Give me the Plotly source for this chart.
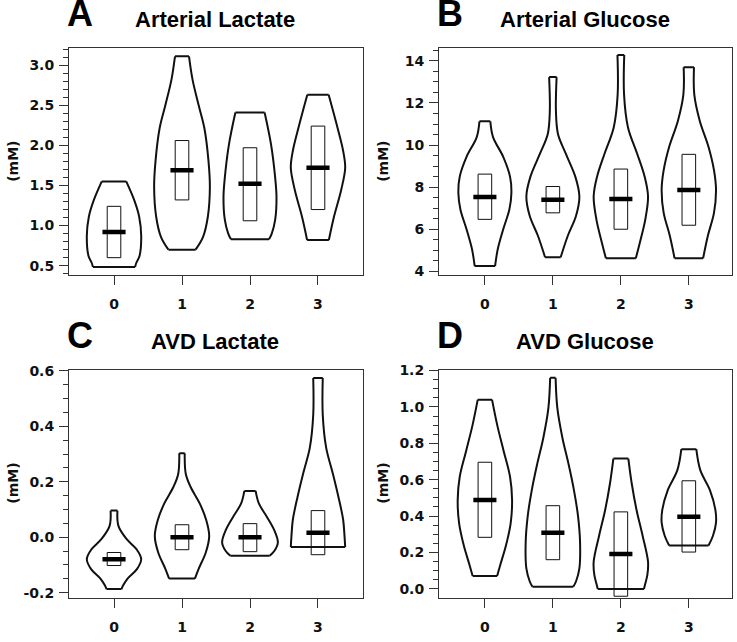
import plotly.graph_objects as go

W, H = 737, 642

# ---------------- data ----------------
groups = [0, 1, 2, 3]
group_labels = ["0", "1", "2", "3"]

panel_letters = ["A", "B", "C", "D"]
panel_titles = ["Arterial Lactate", "Arterial Glucose", "AVD Lactate", "AVD Glucose"]
y_title = "(mM)"

# violin outlines: y levels (bottom -> top) and half-widths (in category units)
A_levels = [
    [0.484, 0.54, 0.62, 0.87, 1.11, 1.31, 1.55],
    [0.70, 0.86, 1.11, 1.48, 1.80, 2.21, 2.50, 2.82, 3.11],
    [0.83, 0.90, 1.07, 1.35, 1.60, 2.01, 2.41],
    [0.82, 1.11, 1.44, 1.72, 1.93, 2.21, 2.63],
]
A_halfw = [
    [0.31, 0.33, 0.375, 0.40, 0.37, 0.30, 0.18],
    [0.20, 0.31, 0.38, 0.41, 0.39, 0.33, 0.245, 0.155, 0.103],
    [0.28, 0.32, 0.37, 0.39, 0.37, 0.31, 0.215],
    [0.16, 0.235, 0.34, 0.40, 0.37, 0.29, 0.157],
]
A_q1 = [0.60, 1.32, 1.06, 1.20]
A_q3 = [1.24, 2.06, 1.97, 2.24]
A_med = [0.92, 1.69, 1.52, 1.72]
A_ticks = [0.5, 1.0, 1.5, 2.0, 2.5, 3.0]
A_ticklabels = ["0.5", "1.0", "1.5", "2.0", "2.5", "3.0"]

B_levels = [
    [4.25, 5.06, 6.0, 6.94, 7.72, 8.50, 9.44, 10.38, 11.13],
    [4.67, 5.69, 6.63, 7.56, 8.50, 9.59, 10.53, 11.62, 13.23],
    [4.62, 5.37, 6.47, 7.56, 8.50, 9.59, 10.84, 12.41, 14.28],
    [4.62, 5.69, 6.78, 7.87, 8.81, 9.91, 11.16, 12.41, 13.70],
]
B_halfw = [
    [0.15, 0.19, 0.27, 0.36, 0.39, 0.37, 0.27, 0.12, 0.08],
    [0.115, 0.22, 0.34, 0.39, 0.33, 0.19, 0.075, 0.045, 0.055],
    [0.22, 0.28, 0.36, 0.40, 0.35, 0.24, 0.105, 0.047, 0.05],
    [0.21, 0.28, 0.37, 0.40, 0.37, 0.29, 0.16, 0.08, 0.076],
]
B_q1 = [6.47, 6.78, 6.0, 6.19]
B_q3 = [8.62, 8.03, 8.86, 9.56]
B_med = [7.53, 7.40, 7.44, 7.87]
B_ticks = [4, 6, 8, 10, 12, 14]
B_ticklabels = ["4", "6", "8", "10", "12", "14"]

C_levels = [
    [-0.187, -0.173, -0.149, -0.114, -0.079, -0.043, -0.008, 0.040, 0.096],
    [-0.149, -0.114, -0.055, 0.004, 0.063, 0.122, 0.181, 0.228, 0.303],
    [-0.067, -0.049, -0.019, 0.029, 0.075, 0.122, 0.167],
    [-0.035, 0.005, 0.063, 0.146, 0.228, 0.323, 0.441, 0.574],
]
C_halfw = [
    [0.11, 0.135, 0.20, 0.34, 0.40, 0.33, 0.19, 0.066, 0.05],
    [0.19, 0.245, 0.35, 0.40, 0.355, 0.26, 0.127, 0.056, 0.04],
    [0.29, 0.36, 0.41, 0.35, 0.245, 0.13, 0.083],
    [0.40, 0.39, 0.37, 0.30, 0.22, 0.12, 0.07, 0.07],
]
C_q1 = [-0.102, -0.045, -0.052, -0.063]
C_q3 = [-0.055, 0.045, 0.049, 0.096]
C_med = [-0.079, 0.0, 0.0, 0.016]
C_ticks = [-0.2, 0.0, 0.2, 0.4, 0.6]
C_ticklabels = ["-0.2", "0.0", "0.2", "0.4", "0.6"]

D_levels = [
    [0.070, 0.130, 0.238, 0.363, 0.489, 0.616, 0.759, 0.903, 1.04],
    [0.011, 0.04, 0.112, 0.256, 0.400, 0.543, 0.687, 0.831, 0.993, 1.16],
    [-0.001, 0.022, 0.076, 0.148, 0.292, 0.435, 0.579, 0.716],
    [0.238, 0.292, 0.364, 0.435, 0.543, 0.651, 0.768],
]
D_halfw = [
    [0.18, 0.225, 0.31, 0.38, 0.40, 0.37, 0.275, 0.18, 0.105],
    [0.30, 0.34, 0.39, 0.40, 0.37, 0.31, 0.23, 0.14, 0.066, 0.04],
    [0.34, 0.355, 0.39, 0.40, 0.32, 0.23, 0.16, 0.11],
    [0.29, 0.355, 0.40, 0.39, 0.31, 0.17, 0.11],
]
D_q1 = [0.283, 0.160, -0.041, 0.202]
D_q3 = [0.696, 0.457, 0.423, 0.594]
D_med = [0.489, 0.308, 0.191, 0.396]
D_ticks = [0.0, 0.2, 0.4, 0.6, 0.8, 1.0, 1.2]
D_ticklabels = ["0.0", "0.2", "0.4", "0.6", "0.8", "1.0", "1.2"]

# ---------------- layout geometry (pixels) ----------------
panel_px = [  # left, right, top, bottom
    (69, 363, 42, 273),
    (439, 732, 42, 273),
    (69, 363, 369, 601),
    (439, 732, 369, 601),
]
x_ranges = [[-0.662, 3.662], [-0.675, 3.635], [-0.662, 3.662], [-0.675, 3.635]]
y_ranges = [[0.38, 3.21], [3.81, 14.6], [-0.218, 0.604], [-0.049, 1.205]]
minor_dt = [0.1, 0.5, 0.05, 0.05]

panels = [
    (A_levels, A_halfw, A_q1, A_q3, A_med, A_ticks, A_ticklabels),
    (B_levels, B_halfw, B_q1, B_q3, B_med, B_ticks, B_ticklabels),
    (C_levels, C_halfw, C_q1, C_q3, C_med, C_ticks, C_ticklabels),
    (D_levels, D_halfw, D_q1, D_q3, D_med, D_ticks, D_ticklabels),
]

BOX_HW = 0.1
MED_HW = 0.17
INK = "#111111"
FRAME = "#333333"
TICKFONT = dict(family="DejaVu Sans", size=14, color="#111", weight="bold")

fig = go.Figure()
annotations = []

for i, (levels, halfw, q1, q3, med, ticks, ticklabels) in enumerate(panels):
    xa = "x" if i == 0 else f"x{i+1}"
    ya = "y" if i == 0 else f"y{i+1}"
    sx, sy, cx, cy, bx, by, mx, my = [], [], [], [], [], [], [], []
    for g, lv, hw in zip(groups, levels, halfw):
        sx += [g + w for w in hw] + [None]
        sy += list(lv) + [None]
        sx += [g - w for w in hw] + [None]
        sy += list(lv) + [None]
        cx += [g - hw[0], g + hw[0], None, g - hw[-1], g + hw[-1], None]
        cy += [lv[0], lv[0], None, lv[-1], lv[-1], None]
    for g, a, b, m in zip(groups, q1, q3, med):
        bx += [g - BOX_HW, g + BOX_HW, g + BOX_HW, g - BOX_HW, g - BOX_HW, None]
        by += [a, a, b, b, a, None]
        mx += [g - MED_HW, g + MED_HW, None]
        my += [m, m, None]
    fig.add_trace(go.Scatter(x=sx, y=sy, mode="lines", xaxis=xa, yaxis=ya,
                             line=dict(color=INK, width=2, shape="spline", smoothing=1.0),
                             showlegend=False, hoverinfo="skip"))
    fig.add_trace(go.Scatter(x=cx, y=cy, mode="lines", xaxis=xa, yaxis=ya,
                             line=dict(color=INK, width=2),
                             showlegend=False, hoverinfo="skip"))
    fig.add_trace(go.Scatter(x=bx, y=by, mode="lines", xaxis=xa, yaxis=ya,
                             line=dict(color=INK, width=1.0),
                             showlegend=False, hoverinfo="skip"))
    fig.add_trace(go.Scatter(x=mx, y=my, mode="lines", xaxis=xa, yaxis=ya,
                             line=dict(color="#000000", width=4.5),
                             showlegend=False, hoverinfo="skip"))

    L, R, T, B = panel_px[i]
    xkey = "xaxis" if i == 0 else f"xaxis{i+1}"
    ykey = "yaxis" if i == 0 else f"yaxis{i+1}"
    fig.layout[xkey] = dict(
        domain=[L / W, R / W], anchor=ya, range=x_ranges[i],
        tickmode="array", tickvals=groups, ticktext=group_labels,
        ticks="outside", ticklen=9, tickwidth=1, tickcolor=FRAME,
        showline=True, mirror=True, linecolor=FRAME, linewidth=1,
        showgrid=False, zeroline=False, ticklabelstandoff=7,
        tickfont=TICKFONT,
    )
    fig.layout[ykey] = dict(
        domain=[1 - B / H, 1 - T / H], anchor=xa, range=y_ranges[i],
        tickmode="array", tickvals=ticks, ticktext=ticklabels,
        ticks="outside", ticklen=9, tickwidth=1, tickcolor=FRAME,
        minor=dict(dtick=minor_dt[i], tick0=0, ticks="outside", ticklen=5,
                   tickwidth=1, tickcolor=FRAME, showgrid=False),
        showline=True, mirror=True, linecolor=FRAME, linewidth=1,
        showgrid=False, zeroline=False, ticklabelstandoff=2,
        tickfont=TICKFONT,
    )

    # panel letter
    annotations.append(dict(
        text=panel_letters[i], xref="paper", yref="paper",
        x=(L - 4) / W, y=1 - (T - 35) / H, xanchor="left", yanchor="middle",
        showarrow=False,
        font=dict(family="Liberation Sans", size=36, color="#000", weight="bold")))
    # panel title
    annotations.append(dict(
        text=panel_titles[i], xref="paper", yref="paper",
        x=((L + R) / 2 - 1) / W, y=1 - (T - 29) / H, xanchor="center", yanchor="middle",
        showarrow=False,
        font=dict(family="Liberation Sans", size=22, color="#000", weight="bold")))
    # y title
    annotations.append(dict(
        text=y_title, xref="paper", yref="paper",
        x=(L - 56) / W, y=1 - ((T + B) / 2) / H, xanchor="center", yanchor="middle",
        textangle=-90, showarrow=False,
        font=dict(family="DejaVu Sans", size=14, color="#111", weight="bold")))

fig.update_layout(
    width=W, height=H, margin=dict(l=0, r=0, t=0, b=0),
    paper_bgcolor="white", plot_bgcolor="white",
    annotations=annotations, showlegend=False,
)

fig.write_html(
    "out.html",
    config={"displayModeBar": False},
    post_script="document.body.style.margin='0px';document.body.style.overflow='hidden';",
)
